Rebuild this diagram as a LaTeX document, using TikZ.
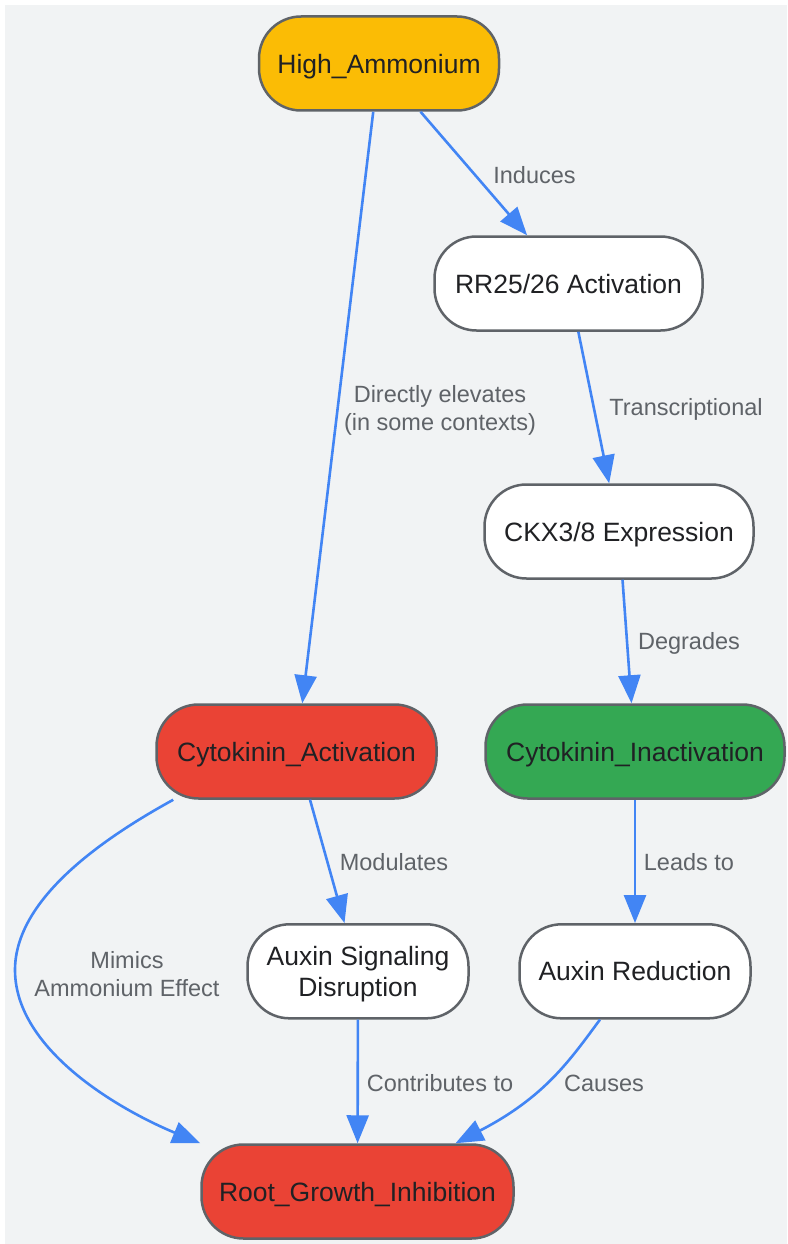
\documentclass[tikz,border=0pt]{standalone}
\usepackage{fontspec}
\setmainfont{Liberation Sans}
\usetikzlibrary{arrows.meta,calc}
\definecolor{bg}{HTML}{F1F3F4}
\definecolor{bord}{HTML}{5F6368}
\definecolor{edgeblue}{HTML}{4285F4}
\definecolor{lbl}{HTML}{5F6368}
\definecolor{txt}{HTML}{202124}
\definecolor{yel}{HTML}{FBBC05}
\definecolor{redn}{HTML}{EA4335}
\definecolor{grn}{HTML}{34A853}
\begin{document}
\begin{tikzpicture}[x=1pt,y=-1pt,
 box/.style={draw=bord, line width=2.5pt, rounded corners=42pt, minimum height=94pt, inner sep=0pt, text depth=0pt, text=txt, font=\fontsize{26.5}{31}\selectfont, align=center, fill=white},
 edge/.style={draw=edgeblue, line width=2.6pt, -{Triangle[length=28pt,width=22pt]}},
 elabel/.style={text=lbl, font=\fontsize{23.5}{28}\selectfont, align=center, inner sep=0pt}
]
\useasboundingbox (0,0) rectangle (787,1244);
\fill[bg] (5,5) rectangle (787,1244);

\node[box, fill=yel, minimum width=240pt] (ha) at (379,63.5) {High\_Ammonium};
\node[box, minimum width=268pt] (rr) at (568.5,283.5) {RR25/26 Activation};
\node[box, minimum width=269pt] (ckx) at (619,531.5) {CKX3/8 Expression};
\node[box, fill=redn, minimum width=280pt] (ca) at (296.5,751.5) {Cytokinin\_Activation};
\node[box, fill=grn, minimum width=299pt] (ci) at (635,751.5) {Cytokinin\_Inactivation};
\node[box, minimum width=221pt] (asd) at (358,971.3) {Auxin Signaling\\Disruption};
\node[box, minimum width=231pt] (ar) at (635,971.3) {Auxin Reduction};
\node[box, fill=redn, minimum width=312pt] (rgi) at (357.5,1191.5) {Root\_Growth\_Inhibition};

\draw[edge] (ha) -- (rr);
\draw[edge] (ha) -- (ca);
\draw[edge] (rr) -- (ckx);
\draw[edge] (ckx) -- (ci);
\draw[edge] (ca) -- (asd);
\draw[edge] (ci) -- (ar);
\draw[edge] (asd) -- (rgi);
\draw[edge] ([xshift=-35pt]ar.south) .. controls (570,1060) and (545,1097) .. ([xshift=98pt]rgi.north);
\draw[edge] ([xshift=18pt]ca.south west) .. controls (100,840) and (15,900) .. (15,970)
  .. controls (15,1050) and (120,1110) .. (rgi.north west);

\node[elabel] (l1) at (534.5,175) {Induces};
\node[elabel] (l2) at (440,410) {Directly elevates\\(in some contexts)};
\node[elabel] (l3) at (686,409) {Transcriptional};
\node[elabel] (l4) at (689,643) {Degrades};
\node[elabel] (l5) at (394,862) {Modulates};
\node[elabel] (l6) at (689,862) {Leads to};
\node[elabel] (l7) at (127,974) {Mimics\\Ammonium Effect};
\node[elabel] (l8) at (440,1083) {Contributes to};
\node[elabel] (l9) at (604,1083) {Causes};
\end{tikzpicture}
\end{document}
